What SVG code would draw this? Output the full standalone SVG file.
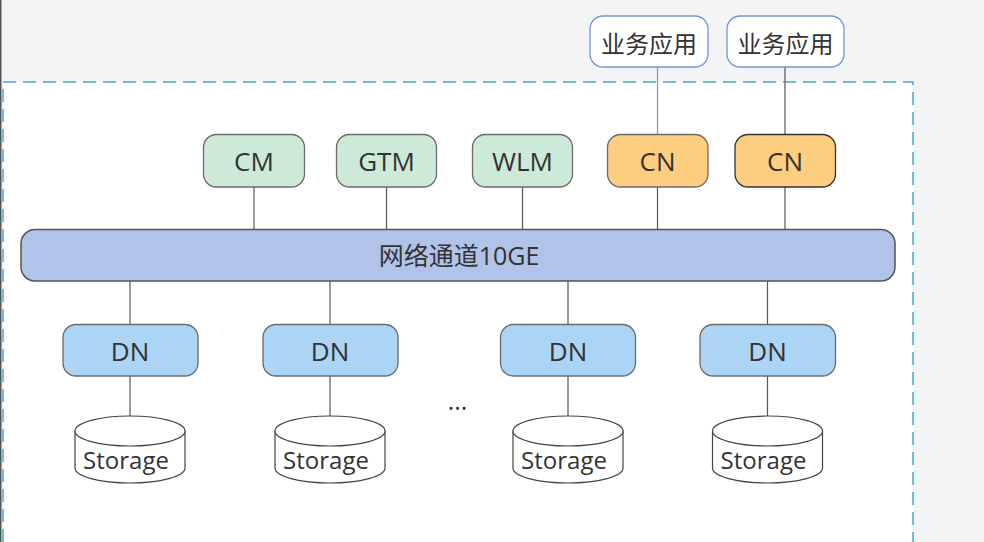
<svg xmlns="http://www.w3.org/2000/svg" width="984" height="542" viewBox="0 0 984 542">
<style>
text{font-family:"Open Sans","Noto Sans","Noto Sans CJK SC",sans-serif;fill:#333;font-size:24px;text-anchor:middle}
.lb{font-size:26px}
.app{fill:#fff;stroke:#7097d4;stroke-width:1.3}
.mgr{fill:#cde9d8;stroke:#6b6b6b;stroke-width:1.3}
.cn{fill:#fdcd80;stroke:#6b6b6b;stroke-width:1.3}
.dn{fill:#acd4f5;stroke:#6b6b6b;stroke-width:1.3}
.bus{fill:#b2c3ea;stroke:#555;stroke-width:1.5}
.st{fill:#fff;stroke:#444;stroke-width:1.2}
.ln{stroke:#555;stroke-width:1.2;fill:none}
</style>
<rect x="0" y="0" width="984" height="542" fill="#f3f4f6"/>
<rect x="0" y="0" width="1.5" height="542" fill="#555"/>
<rect x="3" y="82" width="910" height="480" fill="#fff" stroke="#48a9cf" stroke-width="1.5" stroke-dasharray="13 7"/>
<g id="connectors">
<line class="ln" x1="657.5" y1="67" x2="657.5" y2="134.5" style="stroke:#7097d4"/>
<line class="ln" x1="785" y1="67" x2="785" y2="134.5"/>
<line class="ln" x1="254" y1="187" x2="254" y2="229.5"/>
<line class="ln" x1="386.5" y1="187" x2="386.5" y2="229.5"/>
<line class="ln" x1="522.5" y1="187" x2="522.5" y2="229.5"/>
<line class="ln" x1="657.5" y1="187" x2="657.5" y2="229.5"/>
<line class="ln" x1="785" y1="187" x2="785" y2="229.5"/>
<line class="ln" x1="130" y1="281" x2="130" y2="324.5"/>
<line class="ln" x1="330" y1="281" x2="330" y2="324.5"/>
<line class="ln" x1="568" y1="281" x2="568" y2="324.5"/>
<line class="ln" x1="767.5" y1="281" x2="767.5" y2="324.5"/>
<line class="ln" x1="130" y1="376" x2="130" y2="416"/>
<line class="ln" x1="330" y1="376" x2="330" y2="416"/>
<line class="ln" x1="568" y1="376" x2="568" y2="416"/>
<line class="ln" x1="767.5" y1="376" x2="767.5" y2="416"/>
</g>
<g id="app1"><rect class="app" x="590" y="16" width="118" height="51" rx="13"/><text x="649" y="53">业务应用</text></g>
<g id="app2"><rect class="app" x="727" y="16" width="117" height="51" rx="13"/><text x="785.5" y="53">业务应用</text></g>
<g id="cm"><rect class="mgr" x="203.5" y="134.5" width="101" height="52.5" rx="13"/><text class="lb" x="254" y="171">CM</text></g>
<g id="gtm"><rect class="mgr" x="336.5" y="134.5" width="100" height="52.5" rx="13"/><text class="lb" x="386.5" y="171">GTM</text></g>
<g id="wlm"><rect class="mgr" x="472.5" y="134.5" width="100" height="52.5" rx="13"/><text class="lb" x="522.5" y="171">WLM</text></g>
<g id="cn1"><rect class="cn" x="607.5" y="134.5" width="100.5" height="52.5" rx="13"/><text class="lb" x="657.5" y="171">CN</text></g>
<g id="cn2"><rect class="cn" x="735" y="134.5" width="100.5" height="52.5" rx="13" style="stroke:#333"/><text class="lb" x="785" y="171">CN</text></g>
<g id="bus"><rect class="bus" x="21" y="229.5" width="874" height="51.5" rx="14"/><text x="459" y="264.5" style="font-size:25px">网络通道10GE</text></g>
<g id="dn1"><rect class="dn" x="63" y="324.5" width="135" height="51.5" rx="13"/><text class="lb" x="130" y="360.5">DN</text></g>
<g id="dn2"><rect class="dn" x="263" y="324.5" width="135" height="51.5" rx="13"/><text class="lb" x="330" y="360.5">DN</text></g>
<g id="dn3"><rect class="dn" x="500.5" y="324.5" width="135" height="51.5" rx="13"/><text class="lb" x="568" y="360.5">DN</text></g>
<g id="dn4"><rect class="dn" x="700" y="324.5" width="135.5" height="51.5" rx="13"/><text class="lb" x="767.5" y="360.5">DN</text></g>
<defs>
<g id="cyl">
<path class="st" d="M-55,15 L-55,52 A55,15 0 0 0 55,52 L55,15 A55,15 0 0 0 -55,15 Z"/>
<path class="st" d="M-55,15 A55,15 0 0 0 55,15" fill="none"/>
</g>
</defs>
<g id="st1"><use href="#cyl" x="130" y="416"/><text x="126" y="469">Storage</text></g>
<g id="st2"><use href="#cyl" x="330" y="416"/><text x="326" y="469">Storage</text></g>
<g id="st3"><use href="#cyl" x="568" y="416"/><text x="564" y="469">Storage</text></g>
<g id="st4"><use href="#cyl" x="767.5" y="416"/><text x="763.5" y="469">Storage</text></g>
<text x="457.5" y="410" style="font-size:25px">...</text>
</svg>
